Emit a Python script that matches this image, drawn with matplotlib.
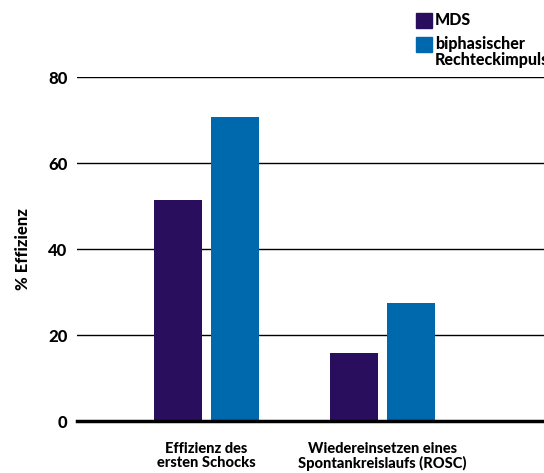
import numpy as np
import matplotlib.pyplot as plt
from matplotlib.patches import Rectangle

plt.rcParams['font.family'] = ['Lato', 'DejaVu Sans']

categories = ['Effizienz des\nersten Schocks', 'Wiedereinsetzen eines\nSpontankreislaufs (ROSC)']
series_names = ['MDS', 'biphasischer\nRechteckimpuls']
mds = [51.3, 15.8]
biphasic = [70.7, 27.4]
yticks = [0, 20, 40, 60, 80]

colors = ['#2a0e5e', '#0068ac']


def main():
    fig = plt.figure(figsize=(5.44, 4.73), dpi=100)
    W, H = 544, 473
    ax = fig.add_axes([77 / W, 1 - 421 / H, 1 - 77 / W, (421 - 77) / H])

    x = np.arange(len(categories))
    w = 0.273
    off = 0.162
    ax.bar(x - off, mds, w, color=colors[0], zorder=3)
    ax.bar(x + off, biphasic, w, color=colors[1], zorder=3)

    ax.set_xlim(-0.736, 1.918)
    ax.set_ylim(0, 80)
    for yv in yticks[1:]:
        ax.axhline(yv, color='black', lw=1.0, zorder=1)
    ax.axhline(0, color='black', lw=2.5, zorder=4, clip_on=False)

    for s in ax.spines.values():
        s.set_visible(False)
    ax.set_yticks(yticks)
    ax.set_yticklabels([str(v) for v in yticks], fontsize=12, fontweight='black')
    ax.tick_params(axis='y', length=0, pad=7)
    ax.set_xticks(x)
    ax.set_xticklabels(categories, fontsize=10.5, fontweight='black', linespacing=1.05)
    ax.tick_params(axis='x', length=0, pad=15)
    ax.set_ylabel('% Effizienz', fontsize=12, fontweight='black', labelpad=12)

    # legend
    for i, (name, c) in enumerate(zip(series_names, colors)):
        y0 = 13 + i * 24
        fig.add_artist(Rectangle((416 / W, 1 - (y0 + 15) / H), 16 / W, 15 / H,
                                 transform=fig.transFigure, color=c))
        fig.text(435 / W, 1 - (y0 - 1) / H, name, fontsize=11.5, fontweight='black',
                 va='top', ha='left', linespacing=1.0)

    fig.savefig('out.png', dpi=100)


if __name__ == "__main__":
    main()
